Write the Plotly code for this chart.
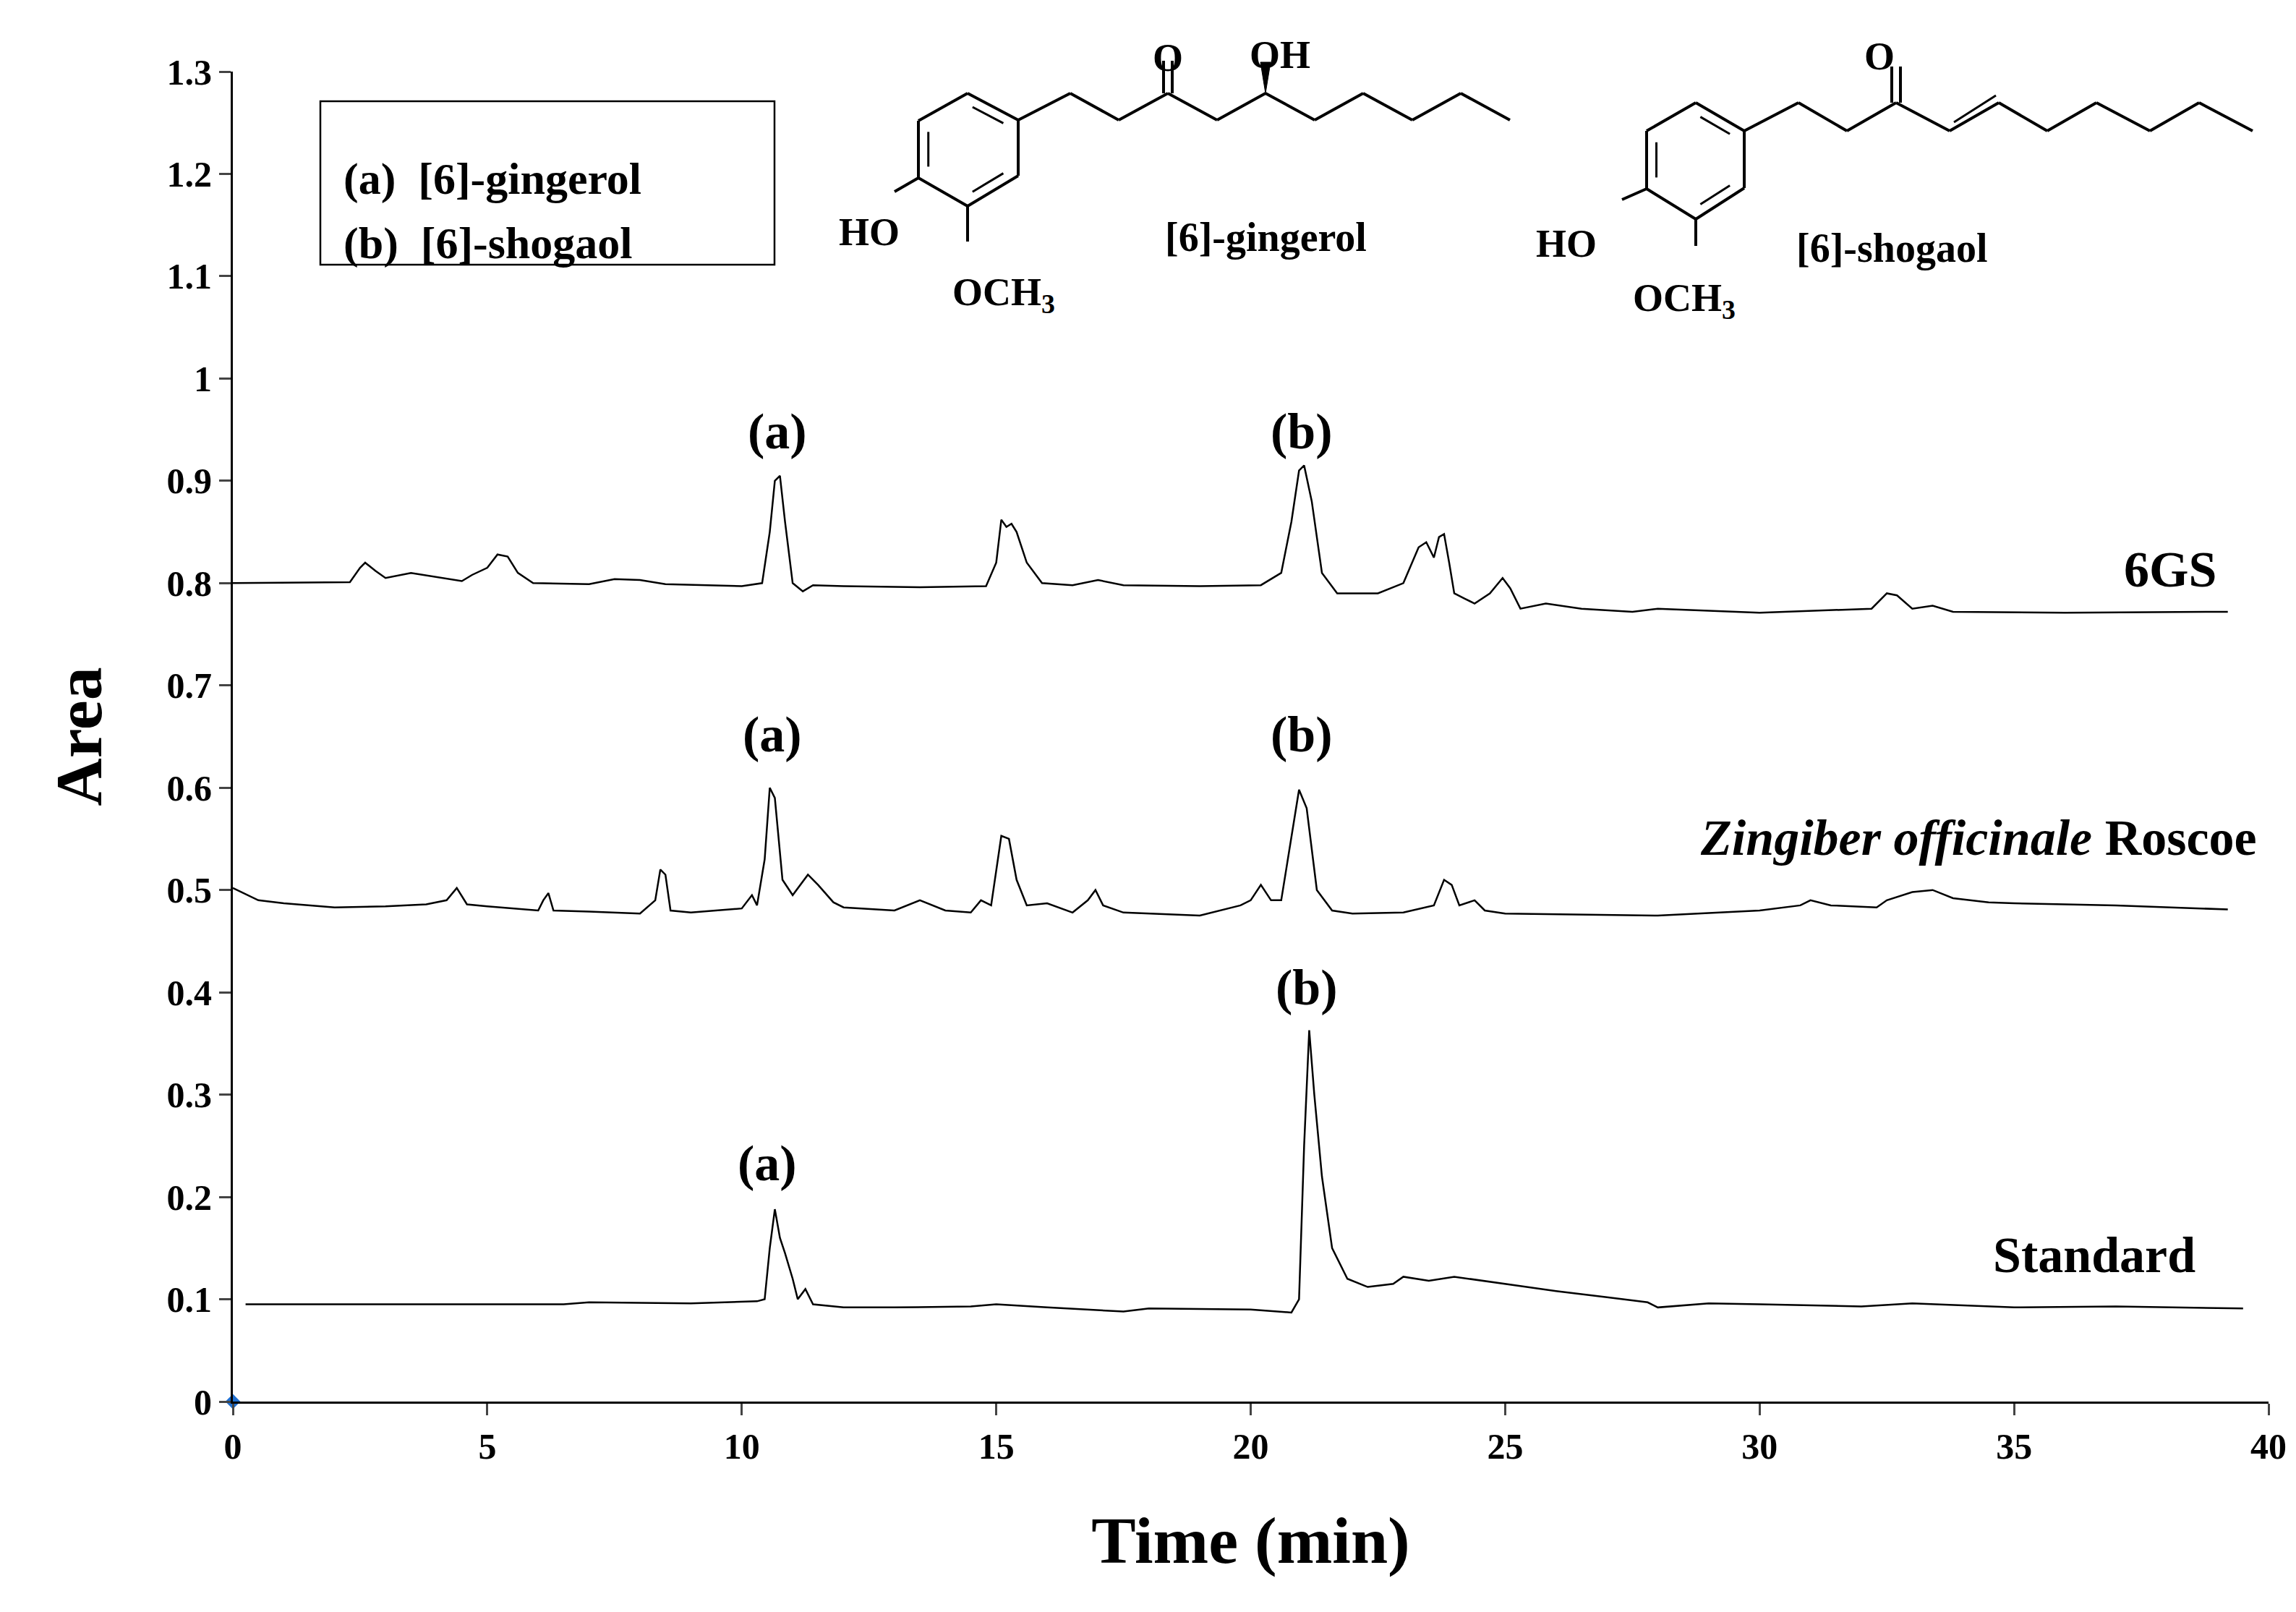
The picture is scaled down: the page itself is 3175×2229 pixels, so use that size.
import plotly.graph_objects as go

# chromatogram traces (time in min, area)
t_6gs = [0, 2.3, 2.5, 2.6, 2.8, 3.0, 3.5, 4.0, 4.5, 4.7, 5.0, 5.2, 5.4, 5.6, 5.9, 7.0, 7.5, 8.0, 8.5, 10.0, 10.4,
         10.55, 10.65, 10.75, 10.85, 11.0, 11.2, 11.4, 12, 13.5, 14.8, 15.0, 15.1, 15.2, 15.3, 15.4, 15.6, 15.9,
         16.5, 17, 17.5, 19, 20.2, 20.6, 20.8, 20.95, 21.05, 21.2, 21.4, 21.7, 22.5, 23.0, 23.3, 23.45, 23.6, 23.7,
         23.8, 23.9, 24.0, 24.2, 24.4, 24.7, 24.95, 25.1, 25.3, 25.8, 26.5, 27.5, 28, 30, 32.2, 32.5, 32.7, 33.0,
         33.4, 33.8, 36, 39.2]
a_6gs = [0.800, 0.801, 0.815, 0.82, 0.812, 0.805, 0.81, 0.806, 0.802, 0.808, 0.815, 0.828, 0.826, 0.81, 0.800,
         0.799, 0.804, 0.803, 0.799, 0.797, 0.80, 0.85, 0.90, 0.905, 0.86, 0.80, 0.792, 0.798, 0.797, 0.796, 0.797,
         0.82, 0.862, 0.855, 0.858, 0.85, 0.82, 0.80, 0.798, 0.803, 0.798, 0.797, 0.798, 0.81, 0.86, 0.91, 0.915,
         0.88, 0.81, 0.79, 0.79, 0.80, 0.835, 0.84, 0.825, 0.845, 0.848, 0.82, 0.79, 0.785, 0.78, 0.79, 0.805,
         0.795, 0.775, 0.78, 0.775, 0.772, 0.775, 0.771, 0.775, 0.79, 0.788, 0.775, 0.778, 0.772, 0.771, 0.772]

t_zo = [0, 0.5, 1, 2, 3, 3.8, 4.2, 4.4, 4.6, 5, 6, 6.1, 6.2, 6.3, 7, 8, 8.3, 8.4, 8.5, 8.6, 9, 10, 10.2, 10.3,
        10.45, 10.55, 10.65, 10.8, 11.0, 11.3, 11.5, 11.8, 12, 13, 13.5, 14, 14.5, 14.7, 14.9, 15.0, 15.1, 15.25,
        15.4, 15.6, 16, 16.5, 16.8, 16.95, 17.1, 17.5, 19, 19.8, 20.0, 20.2, 20.4, 20.6, 20.8, 20.95, 21.1, 21.3,
        21.6, 22, 23, 23.6, 23.8, 23.95, 24.1, 24.4, 24.6, 25, 28, 30, 30.8, 31.0, 31.4, 32.3, 32.5, 33, 33.4,
        33.8, 34.5, 35, 36, 37, 39.2]
a_zo = [0.502, 0.49, 0.487, 0.483, 0.484, 0.486, 0.49, 0.502, 0.486, 0.484, 0.48, 0.49, 0.497, 0.48, 0.479,
        0.477, 0.49, 0.52, 0.515, 0.48, 0.478, 0.482, 0.495, 0.485, 0.53, 0.60, 0.59, 0.51, 0.495, 0.515, 0.505,
        0.488, 0.483, 0.48, 0.49, 0.48, 0.478, 0.49, 0.485, 0.52, 0.553, 0.55, 0.51, 0.485, 0.487, 0.478, 0.49,
        0.50, 0.485, 0.478, 0.475, 0.485, 0.49, 0.505, 0.49, 0.49, 0.55, 0.598, 0.58, 0.50, 0.48, 0.477, 0.478,
        0.485, 0.51, 0.505, 0.485, 0.49, 0.48, 0.477, 0.475, 0.48, 0.485, 0.49, 0.485, 0.483, 0.49, 0.498, 0.50,
        0.492, 0.488, 0.487, 0.486, 0.485, 0.481]

t_std = [0.25, 6.5, 7, 9, 10.3, 10.45, 10.55, 10.65, 10.75, 10.85, 11.0, 11.1, 11.25, 11.4, 12, 13, 14.5, 15, 16,
         17.5, 18, 20, 20.8, 20.95, 21.05, 21.15, 21.25, 21.4, 21.6, 21.9, 22.3, 22.8, 23, 23.5, 24, 25, 26, 27,
         27.8, 28, 29, 30, 32, 33, 35, 37, 38, 39.5]
a_std = [0.095, 0.095, 0.097, 0.096, 0.098, 0.10, 0.15, 0.188, 0.16, 0.145, 0.12, 0.10, 0.11, 0.095, 0.092,
         0.092, 0.093, 0.095, 0.092, 0.088, 0.091, 0.09, 0.087, 0.10, 0.25, 0.363, 0.30, 0.22, 0.15, 0.12, 0.112,
         0.115, 0.122, 0.118, 0.122, 0.115, 0.108, 0.102, 0.097, 0.092, 0.096, 0.095, 0.093, 0.096, 0.092, 0.093,
         0.092, 0.091]

peak_labels = ["(a)", "(b)", "(a)", "(b)", "(b)", "(a)"]
peak_x = [10.7, 21.0, 10.6, 21.0, 21.1, 10.5]
peak_y = [0.948, 0.948, 0.652, 0.652, 0.405, 0.233]

FONT = "Liberation Serif"
W, H = 3175, 2229
L, R, T, B = 314, 46, 91, 299

fig = go.Figure()
for t, a in [(t_6gs, a_6gs), (t_zo, a_zo), (t_std, a_std)]:
    fig.add_trace(go.Scatter(x=t, y=a, mode="lines", line=dict(color="black", width=2.5),
                             showlegend=False, hoverinfo="skip"))
fig.add_trace(go.Scatter(x=[0], y=[0], mode="markers", cliponaxis=False,
                         marker=dict(symbol="diamond", color="#1f6fd0", size=16), showlegend=False))

for lab, x, y in zip(peak_labels, peak_x, peak_y):
    fig.add_annotation(x=x, y=y, text="<b>%s</b>" % lab, showarrow=False, font=dict(size=70, family=FONT))

fig.add_annotation(x=39.0, y=0.813, text="<b>6GS</b>", showarrow=False, xanchor="right",
                   font=dict(size=70, family=FONT))
fig.add_annotation(x=39.8, y=0.551, text="<b><i>Zingiber officinale</i> Roscoe</b>", showarrow=False,
                   xanchor="right", font=dict(size=70, family=FONT))
fig.add_annotation(x=38.6, y=0.143, text="<b>Standard</b>", showarrow=False, xanchor="right",
                   font=dict(size=70, family=FONT))


def px(X):
    return (X - L) / (W - L - R)


def py(Y):
    return (H - B - Y) / (H - T - B)


shapes = []


def line(x0, y0, x1, y1, w=4):
    shapes.append(dict(type="line", xref="paper", yref="paper", x0=px(x0), y0=py(y0), x1=px(x1), y1=py(y1),
                       line=dict(color="black", width=w)))


def text(x, y, s, size=54):
    fig.add_annotation(xref="paper", yref="paper", x=px(x), y=py(y), text="<b>%s</b>" % s, showarrow=False,
                       font=dict(size=size, family=FONT, color="black"))


def molecule(ring, chain):
    n = len(ring)
    for i in range(n):
        line(*ring[i], *ring[(i + 1) % n])
    cx = sum(p[0] for p in ring) / n
    cy = sum(p[1] for p in ring) / n
    for i in (0, 2, 4):
        p, q = ring[i], ring[(i + 1) % n]
        s = 0.8
        a = (cx + (p[0] - cx) * s, cy + (p[1] - cy) * s)
        b = (cx + (q[0] - cx) * s, cy + (q[1] - cy) * s)
        m = 0.12
        line(a[0] + (b[0] - a[0]) * m, a[1] + (b[1] - a[1]) * m,
             b[0] - (b[0] - a[0]) * m, b[1] - (b[1] - a[1]) * m, 3)
    for i in range(len(chain) - 1):
        line(*chain[i], *chain[i + 1])


# [6]-gingerol
g_ring = [(1330, 121), (1400, 158), (1400, 235), (1330, 277), (1262, 238), (1262, 159)]
g_chain = [(1400, 158), (1472, 121), (1539, 158), (1607, 121), (1675, 158), (1742, 121), (1810, 158),
           (1877, 121), (1945, 158), (2012, 121), (2080, 158)]
molecule(g_ring, g_chain)
line(1601, 121, 1601, 76)
line(1613, 121, 1613, 76)
shapes.append(dict(type="path", xref="paper", yref="paper",
                   path="M %f %f L %f %f L %f %f Z" % (px(1742), py(121), px(1735), py(78), px(1749), py(78)),
                   fillcolor="black", line=dict(color="black", width=1)))
line(1262, 238, 1229, 257)
line(1330, 277, 1330, 326)
text(1607, 40, "O")
text(1762, 36, "OH")
text(1150, 281, "HO")
text(1380, 364, "OCH<sub>3</sub>")
text(1742, 287, "[6]-gingerol", 56)

# [6]-shogaol
s_ring = [(2337, 134), (2404, 173), (2404, 252), (2337, 295), (2269, 253), (2269, 173)]
s_chain = [(2404, 173), (2479, 134), (2546, 173), (2614, 134), (2688, 173), (2756, 134), (2823, 173),
           (2891, 134), (2965, 173), (3033, 134), (3107, 173)]
molecule(s_ring, s_chain)
line(2608, 134, 2608, 84)
line(2620, 134, 2620, 84)
line(2694, 161, 2752, 124, 3)
line(2269, 253, 2235, 268)
line(2337, 295, 2337, 332)
text(2614, 38, "O")
text(2158, 297, "HO")
text(2394, 372, "OCH<sub>3</sub>")
text(2742, 302, "[6]-shogaol", 56)

# legend box
shapes.append(dict(type="rect", xref="paper", yref="paper", x0=px(435), y0=py(132), x1=px(1063), y1=py(358),
                   line=dict(color="black", width=2.5), fillcolor="white"))
fig.add_annotation(xref="paper", yref="paper", x=px(465), y=py(203), xanchor="left", showarrow=False,
                   text="<b>(a)  [6]-gingerol</b>", font=dict(size=62, family=FONT))
fig.add_annotation(xref="paper", yref="paper", x=px(465), y=py(292), xanchor="left", showarrow=False,
                   text="<b>(b)  [6]-shogaol</b>", font=dict(size=62, family=FONT))

fig.update_layout(
    width=W, height=H, margin=dict(l=L, r=R, t=T, b=B),
    paper_bgcolor="white", plot_bgcolor="white", shapes=shapes,
    font=dict(family=FONT, color="black"),
)
fig.update_xaxes(range=[0, 40], dtick=5, showline=True, linecolor="black", linewidth=3, ticks="outside",
                 ticklen=16, tickwidth=3, showgrid=False, zeroline=False,
                 tickfont=dict(size=50, family=FONT), tickprefix="<b>", ticksuffix="</b>",
                 title=dict(text="<b>Time (min)</b>", font=dict(size=92, family=FONT), standoff=70))
fig.update_yaxes(range=[0, 1.3], dtick=0.1, showline=True, linecolor="black", linewidth=3, ticks="outside",
                 ticklen=16, tickwidth=3, showgrid=False, zeroline=False,
                 tickfont=dict(size=50, family=FONT), tickprefix="<b>", ticksuffix="</b>",
                 title=dict(text="<b>Area</b>", font=dict(size=92, family=FONT), standoff=60))

fig.write_html("out.html")
